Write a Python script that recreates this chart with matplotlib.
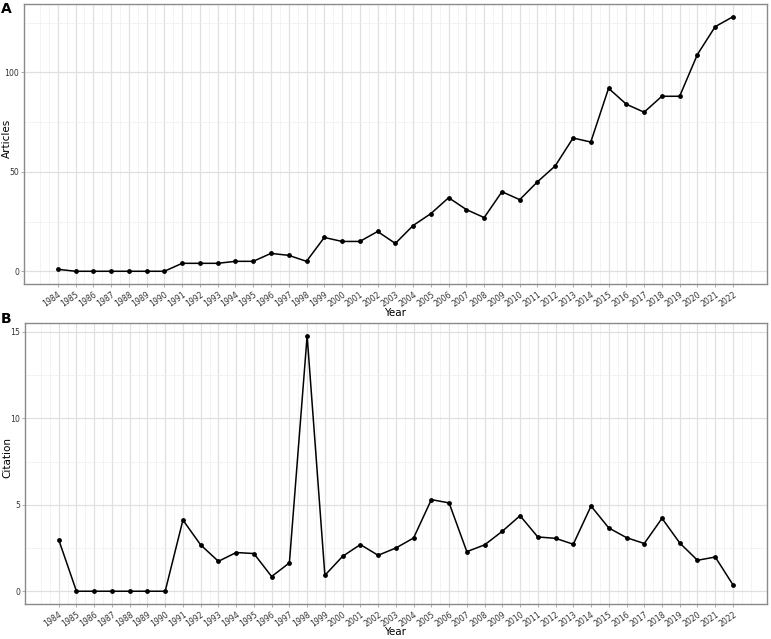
import numpy as np
import matplotlib
matplotlib.use("Agg")
import matplotlib.pyplot as plt

years = list(range(1984, 2023))
articles = [1, 0, 0, 0, 0, 0, 0, 4, 4, 4, 5, 5, 9, 8, 5, 17, 15, 15, 20, 14,
            23, 29, 37, 31, 27, 40, 36, 45, 53, 67, 65, 92, 84, 80, 88, 88,
            109, 123, 128]
citation = [2.98, 0, 0, 0, 0, 0, 0, 4.12, 2.68, 1.73, 2.24, 2.18, 0.85, 1.64,
            14.78, 0.92, 2.02, 2.70, 2.08, 2.50, 3.08, 5.30, 5.11, 2.29, 2.68,
            3.47, 4.37, 3.14, 3.06, 2.72, 4.93, 3.66, 3.10, 2.76, 4.22, 2.79,
            1.79, 1.98, 0.37]

plt.rcParams['font.family'] = ['DejaVu Sans']

W, H = 771, 639
fig = plt.figure(figsize=(W / 100, H / 100), dpi=100)
axA = fig.add_axes([24 / W, 1 - 284 / H, 742.7 / W, 280 / H])
axB = fig.add_axes([25 / W, 1 - 604 / H, 741.7 / W, 281 / H])


def style_panel(ax, x, y, yticks, yminor):
    x = np.array(x)
    y = np.array(y)
    span = x.max() - x.min()
    ax.set_xlim(x.min() - 0.05 * span, x.max() + 0.05 * span)
    ymax = y.max()
    ax.set_ylim(-0.05 * ymax, ymax * 1.05)

    # grid like ggplot theme_bw
    xminor = np.arange(x.min() - 1, x.max() + 1.01, 0.5)
    for v in xminor:
        ax.axvline(v, color='#EFEFEF', lw=0.5, zorder=0)
    for v in x:
        ax.axvline(v, color='#E0E0E0', lw=0.9, zorder=0)
    for v in yminor:
        ax.axhline(v, color='#EFEFEF', lw=0.5, zorder=0)
    for v in yticks:
        ax.axhline(v, color='#E0E0E0', lw=0.9, zorder=0)

    ax.plot(x, y, color='black', lw=1.1, zorder=3)
    ax.scatter(x, y, s=6, color='black', zorder=4)

    ax.set_xticks(x)
    ax.set_xticklabels([str(v) for v in x], rotation=35, ha='right',
                       va='top', rotation_mode='anchor', fontsize=5.6)
    ax.set_yticks(yticks)
    ax.set_yticklabels([str(v) for v in yticks], fontsize=5.6)
    ax.tick_params(length=2, width=0.5, pad=1.5, colors='#8A8A8A',
                   labelcolor='#333333')
    ax.tick_params(axis='x', pad=2.5)
    for s in ax.spines.values():
        s.set_color('#8A8A8A')
        s.set_linewidth(1.0)


style_panel(axA, years, articles, [0, 50, 100], [25, 75, 125])
style_panel(axB, years, citation, [0, 5, 10, 15], [2.5, 7.5, 12.5])

fig.text(395 / W, 1 - 313 / H, 'Year', fontsize=7.5, ha='center', va='center')
fig.text(395 / W, 1 - 632 / H, 'Year', fontsize=7.5, ha='center', va='center')
fig.text(7 / W, 1 - 138 / H, 'Articles', fontsize=7.5, rotation=90,
         ha='center', va='center')
fig.text(7 / W, 1 - 458 / H, 'Citation', fontsize=7.5, rotation=90,
         ha='center', va='center')

fig.text(0.5 / W, 1 - 2 / H, 'A', fontsize=10, fontweight='heavy', ha='left', va='top')
fig.text(0.5 / W, 1 - 312 / H, 'B', fontsize=10, fontweight='heavy', ha='left', va='top')

fig.savefig('out.png', dpi=100)
